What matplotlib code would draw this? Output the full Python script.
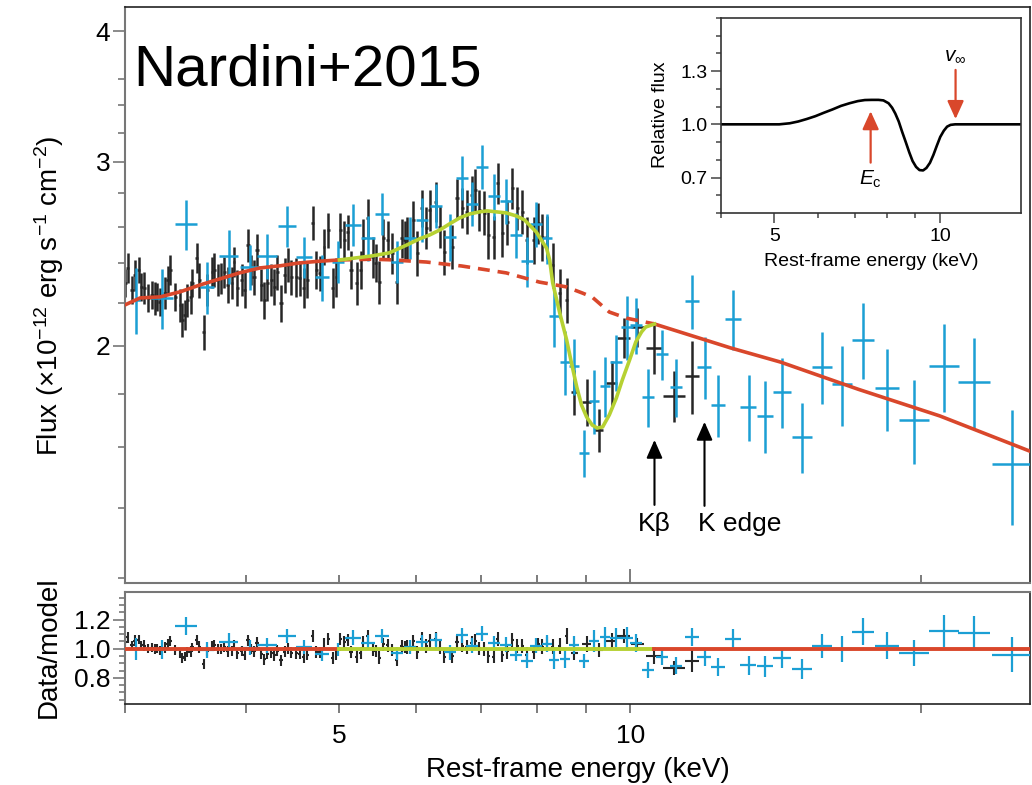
import numpy as np
import matplotlib
matplotlib.use('Agg')
import matplotlib.pyplot as plt
from matplotlib.ticker import FixedLocator, NullFormatter, FixedFormatter

plt.rcParams['font.family'] = ['Liberation Sans', 'DejaVu Sans']
plt.rcParams['mathtext.fontset'] = 'custom'
plt.rcParams['mathtext.rm'] = 'Liberation Sans'
plt.rcParams['mathtext.it'] = 'Liberation Sans:italic'
plt.rcParams['mathtext.bf'] = 'Liberation Sans:bold'

# ---------------- data: black (fine-binned) spectrum ----------------
black_E = [3.00,3.02,3.05,3.07,3.10,3.12,3.14,3.17,3.20,3.22,
           3.24,3.26,3.30,3.32,3.34,3.38,3.42,3.44,3.46,3.48,
           3.51,3.52,3.56,3.58,3.62,3.65,3.69,3.71,3.74,3.77,
           3.80,3.83,3.87,3.89,3.92,3.96,3.99,4.02,4.05,4.08,
           4.11,4.15,4.18,4.21,4.25,4.28,4.31,4.35,4.39,4.42,
           4.46,4.51,4.55,4.59,4.63,4.69,4.73,4.77,4.82,4.87,
           4.92,4.96,5.01,5.06,5.10,5.14,5.21,5.26,5.29,5.35,
           5.41,5.45,5.50,5.55,5.61,5.67,5.73,5.80,5.84,5.88,
           5.96,6.02,6.08,6.15,6.20,6.29,6.35,6.42,6.54,6.62,
           6.70,6.77,6.85,6.91,6.98,7.06,7.13,7.22,7.29,7.37,
           7.46,7.55,7.64,7.73,7.81,7.94,8.03,8.11,8.19,8.31,
           8.45,8.59,8.75,9.01,9.27,9.56,9.84,10.17,10.59,11.10,11.59]
black_F = [2.298,2.375,2.263,2.339,2.365,2.278,2.273,2.223,2.238,2.223,
           2.228,2.204,2.248,2.313,2.365,2.228,2.189,2.118,2.141,2.213,
           2.228,2.298,2.428,2.313,2.063,2.263,2.354,2.365,2.313,2.323,
           2.354,2.288,2.298,2.407,2.273,2.313,2.263,2.498,2.365,2.328,
           2.471,2.288,2.213,2.298,2.313,2.278,2.354,2.199,2.339,2.391,
           2.328,2.328,2.323,2.273,2.313,2.623,2.365,2.349,2.488,2.582,
           2.273,2.328,2.582,2.526,2.571,2.365,2.298,2.365,2.537,2.652,
           2.433,2.401,2.303,2.537,2.526,2.455,2.303,2.537,2.526,2.537,
           2.640,2.455,2.711,2.594,2.699,2.747,2.600,2.460,2.488,2.771,
           2.711,2.687,2.789,2.820,2.699,2.681,2.554,2.543,2.864,2.565,
           2.628,2.833,2.711,2.687,2.526,2.526,2.623,2.543,2.543,2.391,
           2.248,2.213,1.807,1.768,1.662,1.843,2.036,2.085,1.991,1.791,1.872]
black_Ferr = [0.07,0.08,0.07,0.08,0.07,0.07,0.08,0.07,0.07,0.08,
              0.07,0.07,0.08,0.07,0.08,0.07,0.08,0.08,0.07,0.08,
              0.08,0.07,0.08,0.09,0.08,0.08,0.08,0.09,0.08,0.08,
              0.08,0.09,0.08,0.08,0.09,0.08,0.09,0.09,0.08,0.09,
              0.09,0.08,0.09,0.09,0.08,0.09,0.09,0.09,0.09,0.09,
              0.09,0.10,0.09,0.10,0.09,0.10,0.10,0.09,0.10,0.10,
              0.10,0.10,0.10,0.11,0.10,0.10,0.11,0.10,0.11,0.11,
              0.11,0.10,0.11,0.11,0.11,0.11,0.11,0.11,0.11,0.12,
              0.11,0.12,0.11,0.12,0.12,0.12,0.12,0.12,0.12,0.12,
              0.12,0.13,0.12,0.13,0.12,0.13,0.13,0.12,0.13,0.13,
              0.13,0.13,0.13,0.13,0.13,0.13,0.12,0.13,0.12,0.12,
              0.12,0.11,0.09,0.09,0.08,0.09,0.09,0.09,0.11,0.10,0.15]
black_Eerr = [0.012,0.012,0.012,0.012,0.012,0.012,0.012,0.012,0.012,0.012,
              0.012,0.012,0.012,0.012,0.012,0.012,0.012,0.012,0.012,0.012,
              0.012,0.012,0.012,0.012,0.012,0.012,0.012,0.012,0.012,0.012,
              0.012,0.012,0.012,0.012,0.012,0.012,0.012,0.016,0.016,0.016,
              0.016,0.016,0.016,0.016,0.016,0.016,0.016,0.016,0.016,0.016,
              0.016,0.016,0.016,0.016,0.016,0.016,0.016,0.016,0.016,0.016,
              0.016,0.016,0.020,0.020,0.020,0.020,0.020,0.020,0.020,0.020,
              0.020,0.020,0.020,0.020,0.020,0.020,0.020,0.020,0.020,0.020,
              0.020,0.020,0.020,0.020,0.020,0.020,0.020,0.020,0.028,0.028,
              0.028,0.028,0.028,0.028,0.028,0.028,0.028,0.028,0.028,0.028,
              0.028,0.028,0.028,0.028,0.028,0.028,0.035,0.035,0.035,0.035,
              0.035,0.035,0.08,0.09,0.10,0.12,0.15,0.15,0.20,0.29,0.19]
black_ratio = [1.048,1.079,1.024,1.055,1.062,1.024,1.022,1.000,1.006,0.998,
               1.000,0.989,1.007,1.033,1.054,0.991,0.971,0.936,0.946,0.977,
               0.980,1.011,1.062,1.011,0.893,0.984,1.021,1.023,0.999,1.001,
               1.012,0.981,0.984,1.028,0.968,0.984,0.959,1.057,1.000,0.982,
               1.041,0.963,0.928,0.965,0.971,0.955,0.987,0.919,0.978,0.999,
               0.971,0.970,0.967,0.944,0.960,1.087,0.980,0.974,1.030,1.066,
               0.938,0.963,1.066,1.043,1.059,0.975,0.945,0.973,1.042,1.085,
               0.998,0.982,0.937,1.031,1.024,0.991,0.925,1.019,1.012,1.014,
               1.050,0.974,1.069,1.020,1.055,1.066,1.007,0.946,0.947,1.047,
               1.020,1.009,1.042,1.051,1.004,0.998,0.949,0.945,1.064,0.955,
               0.981,1.059,1.019,1.017,0.960,0.977,1.029,1.013,1.035,1.015,
               1.018,1.088,0.969,1.033,0.993,1.055,1.086,1.029,0.947,0.865,0.916]

# ---------------- data: cyan (broad-band) spectrum ----------------
cyan_E = [3.08,3.28,3.47,3.65,3.84,4.04,4.21,4.41,4.60,4.80,
          4.98,5.16,5.35,5.54,5.74,5.91,6.09,6.30,6.50,6.69,
          6.86,7.03,7.23,7.44,7.62,7.81,7.99,8.19,8.34,8.55,
          8.75,8.96,9.18,9.42,9.67,9.91,10.14,10.44,10.79,11.16,
          11.59,11.93,12.33,12.78,13.25,13.79,14.36,15.06,15.80,16.57,
          17.42,18.44,19.67,21.13,22.69,24.84]
cyan_Eerr = [0.030,0.086,0.091,0.061,0.091,0.096,0.100,0.094,0.088,0.080,
             0.071,0.098,0.089,0.092,0.082,0.084,0.087,0.090,0.093,0.095,
             0.098,0.100,0.103,0.106,0.109,0.111,0.114,0.097,0.099,0.102,
             0.104,0.107,0.109,0.112,0.138,0.141,0.145,0.149,0.154,0.159,
             0.193,0.199,0.206,0.244,0.252,0.263,0.308,0.359,0.376,0.394,
             0.456,0.527,0.702,0.755,0.864,1.18]
cyan_F = [2.213,2.223,2.617,2.278,2.439,2.380,2.439,2.605,2.433,2.328,
          2.407,2.611,2.537,2.675,2.407,2.537,2.640,2.723,2.543,2.896,
          2.735,2.967,2.783,2.753,2.554,2.412,2.617,2.537,2.137,1.931,
          1.914,1.580,1.772,1.831,1.931,2.085,2.095,1.787,1.965,1.827,
          2.208,1.910,1.756,2.123,1.748,1.714,1.807,1.637,1.910,1.839,
          2.027,1.823,1.699,1.914,1.847,1.542]
cyan_Ferr = [0.161,0.147,0.144,0.130,0.145,0.120,0.123,0.120,0.112,0.118,
             0.111,0.121,0.123,0.124,0.111,0.117,0.128,0.132,0.129,0.140,
             0.132,0.144,0.141,0.139,0.124,0.133,0.132,0.140,0.141,0.136,
             0.118,0.083,0.125,0.121,0.119,0.147,0.129,0.114,0.108,0.117,
             0.131,0.130,0.120,0.140,0.127,0.136,0.139,0.126,0.151,0.162,
             0.169,0.164,0.157,0.185,0.187,0.193]
cyan_ratio = [0.998,0.997,1.157,0.990,1.045,1.008,1.024,1.088,1.012,0.964,
              0.996,1.077,1.041,1.088,0.970,1.013,1.043,1.058,0.974,1.091,
              1.022,1.104,1.036,1.028,0.959,0.918,1.021,1.034,0.924,0.932,
              1.027,0.914,1.054,1.078,1.075,1.075,1.038,0.855,0.942,0.884,
              1.080,0.942,0.874,1.066,0.886,0.878,0.936,0.861,1.020,0.998,
              1.116,1.022,0.972,1.121,1.111,0.959]

# ---------------- models ----------------
cont_lo_E = [3.00,3.11,3.26,3.42,3.59,3.76,3.94,4.14,4.34,4.54,4.76,5.00]
cont_lo_F = [2.189,2.223,2.228,2.253,2.288,2.318,2.349,2.375,2.386,2.401,2.410,2.417]
cont_mid_E = [5.00,5.41,5.63,6.15,6.69,7.44,8.05,8.58,8.92,9.13,9.51,9.91,10.59]
cont_mid_F = [2.417,2.421,2.418,2.406,2.385,2.349,2.302,2.278,2.247,2.227,2.155,2.126,2.099]
cont_hi_E = [10.59,12.7,14.3,17.2,20.9,25.9]
cont_hi_F = [2.099,1.991,1.930,1.818,1.714,1.586]
wind_E = [5.00,5.41,5.63,5.87,6.05,6.20,6.35,6.50,6.66,6.82,6.98,7.11,7.27,7.44,
          7.62,7.77,7.86,7.99,8.05,8.19,8.25,8.31,8.45,8.59,8.69,8.80,8.90,9.01,
          9.13,9.24,9.36,9.51,9.67,9.81,9.98,10.13,10.27,10.37,10.59]
wind_F = [2.417,2.439,2.455,2.498,2.532,2.554,2.582,2.617,2.652,2.675,2.687,2.693,
          2.687,2.681,2.663,2.640,2.611,2.571,2.543,2.480,2.417,2.298,2.151,2.027,
          1.926,1.827,1.756,1.710,1.680,1.669,1.673,1.718,1.783,1.856,1.939,2.018,
          2.063,2.085,2.099]

# inset: relative flux of the wind profile
inset_E = [4.0,5.0,5.10,5.33,5.52,5.72,5.93,6.14,6.37,6.60,6.84,7.08,7.29,7.50,
           7.72,7.88,8.05,8.17,8.28,8.40,8.52,8.65,8.78,8.90,9.03,9.16,9.30,
           9.43,9.57,9.71,9.85,9.99,10.14,10.28,10.43,10.63,14.0]
inset_R = [1.0,1.0,1.000,1.006,1.016,1.030,1.046,1.065,1.084,1.104,1.119,1.131,
           1.137,1.138,1.138,1.135,1.119,1.094,1.061,1.016,0.958,0.900,0.841,
           0.793,0.760,0.742,0.740,0.754,0.783,0.828,0.880,0.929,0.964,0.987,
           0.997,1.000,1.000]

# tick definitions
main_yticks = [2, 3, 4]
main_yminor = [1.2, 1.4, 1.6, 1.8, 2.2, 2.4, 2.6, 2.8, 3.2, 3.4, 3.6]
x_major_main = [10]
x_minor_main = [3, 4, 5, 6, 7, 8, 9, 20]
low_xticks = [5, 10]
low_xminor = [3, 4, 6, 7, 8, 9, 20]
low_yticks = [0.8, 1.0, 1.2]
low_yminor = [0.65, 0.7, 0.75, 0.85, 0.9, 0.95, 1.05, 1.1, 1.15, 1.25, 1.3, 1.35]
ins_yticks = [0.7, 1.0, 1.3]
ins_yminor = [0.5, 0.6, 0.8, 0.9, 1.1, 1.2, 1.4, 1.5, 1.6]
ins_xticks = [5, 10]
ins_xminor = [4, 6, 7, 8, 9]

BLACK = '#262626'
CYAN = '#1b9fd4'
RED = '#d9472b'
GREEN = '#b6d132'

fig = plt.figure(figsize=(10.32, 7.85), dpi=100)
ax = fig.add_axes([0.1211, 0.2567, 0.8769, 0.7344])
ax2 = fig.add_axes([0.1211, 0.1032, 0.8769, 0.1427])
axi = fig.add_axes([0.6987, 0.7287, 0.2907, 0.2484])
axi.set_zorder(10)

# ---------------- main panel ----------------
ax.errorbar(black_E, black_F, xerr=black_Eerr, yerr=black_Ferr, fmt='none',
            ecolor=BLACK, elinewidth=1.8, capsize=0, zorder=2)
ax.errorbar(cyan_E, cyan_F, xerr=cyan_Eerr, yerr=cyan_Ferr, fmt='none',
            ecolor=CYAN, elinewidth=1.8, capsize=0, zorder=3)
ax.plot(cont_lo_E, cont_lo_F, color=RED, lw=2.6, zorder=5)
ax.plot(cont_mid_E, cont_mid_F, color=RED, lw=2.6, ls=(0, (3.3, 2.2)), zorder=4)
ax.plot(cont_hi_E, cont_hi_F, color=RED, lw=2.6, zorder=5)
ax.plot(wind_E, wind_F, color=GREEN, lw=2.6, zorder=5)

ax.set_xscale('log')
ax.set_yscale('log')
ax.set_xlim(3.0, 25.9)
ax.set_ylim(1.185, 4.22)
ax.xaxis.set_major_locator(FixedLocator(x_major_main))
ax.xaxis.set_minor_locator(FixedLocator(x_minor_main))
ax.xaxis.set_major_formatter(NullFormatter())
ax.xaxis.set_minor_formatter(NullFormatter())
ax.yaxis.set_major_locator(FixedLocator(main_yticks))
ax.yaxis.set_major_formatter(FixedFormatter([str(t) for t in main_yticks]))
ax.yaxis.set_minor_locator(FixedLocator(main_yminor))
ax.yaxis.set_minor_formatter(NullFormatter())
ax.tick_params(axis='x', which='major', direction='in', length=10, width=1.2, color='#666666')
ax.tick_params(axis='x', which='minor', direction='in', length=6, width=1.2, color='#666666')
ax.tick_params(axis='y', which='major', direction='out', length=8.5, width=1.2,
               color='#777777', labelsize=19, pad=2)
ax.tick_params(axis='y', which='minor', direction='out', length=5, width=1.2, color='#777777')
for s in ['left', 'bottom']:
    ax.spines[s].set_color('#777777')
    ax.spines[s].set_linewidth(1.5)
for s in ['top', 'right']:
    ax.spines[s].set_color('#222222')
    ax.spines[s].set_linewidth(1.2)

# feature arrows
arrow_kw = dict(arrowstyle='-|>,head_length=0.5,head_width=0.22', color='black', lw=1.5,
                mutation_scale=22, shrinkA=0, shrinkB=0)
ax.annotate('', xy=(10.59, 1.626), xytext=(10.59, 1.409), arrowprops=arrow_kw, zorder=6)
ax.annotate('', xy=(11.93, 1.692), xytext=(11.93, 1.406), arrowprops=arrow_kw, zorder=6)
ax.text(10.59, 1.351, 'K\u03b2', ha='center', va='center', fontsize=19)
ax.text(12.96, 1.351, 'K edge', ha='center', va='center', fontsize=19)

# ---------------- ratio panel ----------------
black_rerr = [r * e / f for r, e, f in zip(black_ratio, black_Ferr, black_F)]
cyan_rerr = [r * e / f for r, e, f in zip(cyan_ratio, cyan_Ferr, cyan_F)]
ax2.errorbar(black_E, black_ratio, xerr=black_Eerr, yerr=black_rerr, fmt='none',
             ecolor=BLACK, elinewidth=1.5, capsize=0, zorder=2)
ax2.errorbar(cyan_E, cyan_ratio, xerr=cyan_Eerr, yerr=cyan_rerr, fmt='none',
             ecolor=CYAN, elinewidth=1.6, capsize=0, zorder=3)
ax2.plot(cont_lo_E, [f / f for f in cont_lo_F], color=RED, lw=2.8, zorder=5)
ax2.plot(wind_E, [f / f for f in wind_F], color=GREEN, lw=2.8, zorder=5)
ax2.plot(cont_hi_E, [f / f for f in cont_hi_F], color=RED, lw=2.8, zorder=5)
ax2.set_xscale('log')
ax2.set_xlim(3.0, 25.9)
ax2.set_ylim(0.62, 1.39)
ax2.xaxis.set_major_locator(FixedLocator(low_xticks))
ax2.xaxis.set_major_formatter(FixedFormatter([str(t) for t in low_xticks]))
ax2.xaxis.set_minor_locator(FixedLocator(low_xminor))
ax2.xaxis.set_minor_formatter(NullFormatter())
ax2.yaxis.set_major_locator(FixedLocator(low_yticks))
ax2.yaxis.set_major_formatter(FixedFormatter(['%.1f' % t for t in low_yticks]))
ax2.yaxis.set_minor_locator(FixedLocator(low_yminor))
ax2.tick_params(axis='x', which='both', direction='out', length=6.5, width=1.2,
                color='#666666', labelsize=19, pad=8)
ax2.tick_params(axis='y', which='major', direction='out', length=8.5, width=1.2,
                color='#777777', labelsize=19, pad=2)
ax2.tick_params(axis='y', which='minor', direction='out', length=4.5, width=1.2, color='#777777')
for s in ['left', 'top']:
    ax2.spines[s].set_color('#777777')
    ax2.spines[s].set_linewidth(1.5)
for s in ['bottom', 'right']:
    ax2.spines[s].set_color('#222222')
    ax2.spines[s].set_linewidth(1.2)

# ---------------- inset ----------------
axi.set_facecolor('white')
axi.plot(inset_E, inset_R, color='black', lw=1.9)
axi.set_xscale('log')
axi.set_xlim(4, 14)
axi.set_ylim(0.5, 1.6)
axi.xaxis.set_major_locator(FixedLocator(ins_xticks))
axi.xaxis.set_major_formatter(FixedFormatter([str(t) for t in ins_xticks]))
axi.xaxis.set_minor_locator(FixedLocator(ins_xminor))
axi.xaxis.set_minor_formatter(NullFormatter())
axi.yaxis.set_major_locator(FixedLocator(ins_yticks))
axi.yaxis.set_major_formatter(FixedFormatter(['%.1f' % t for t in ins_yticks]))
axi.yaxis.set_minor_locator(FixedLocator(ins_yminor))
axi.tick_params(axis='both', which='major', direction='out', length=7, width=1.1,
                color='#444444', labelsize=14, pad=3)
axi.tick_params(axis='both', which='minor', direction='out', length=3.8, width=1.1,
                color='#444444')
axi.tick_params(axis='x', which='major', pad=4)
for s in axi.spines.values():
    s.set_color('#333333')
    s.set_linewidth(1.2)
axi.text(0.5, -0.272, 'Rest-frame energy (keV)', transform=axi.transAxes,
         ha='center', va='baseline', fontsize=14)
axi.text(-0.203, 0.503, 'Relative flux', transform=axi.transAxes, rotation=90,
         ha='center', va='center', fontsize=14)
red_arrow = dict(arrowstyle='-|>,head_length=0.55,head_width=0.25', color=RED, lw=1.6,
                 mutation_scale=20, shrinkA=0, shrinkB=0)
axi.annotate('', xy=(7.47, 1.074), xytext=(7.47, 0.784), arrowprops=red_arrow)
axi.annotate('', xy=(10.65, 1.03), xytext=(10.65, 1.307), arrowprops=red_arrow)
axi.text(7.47, 0.687, r'$E_{\mathrm{c}}$', ha='center', va='center', fontsize=15)
axi.text(10.65, 1.39, r'$v_{\infty}$', ha='center', va='center', fontsize=15)

# ---------------- figure-level texts ----------------
fig.text(0.1289, 0.8917, 'Nardini+2015', fontsize=42, va='baseline', ha='left')
fig.text(0.0475, 0.623, r'Flux ($\times$10$^{-12}$ erg s$^{-1}$ cm$^{-2}$)', rotation=90,
         ha='center', va='center', fontsize=20)
fig.text(0.0475, 0.176, 'Data/model', rotation=90, ha='center', va='center', fontsize=20)
fig.text(0.560, 0.0105, 'Rest-frame energy (keV)', ha='center', va='baseline', fontsize=20)

fig.savefig('out.png', dpi=100)
